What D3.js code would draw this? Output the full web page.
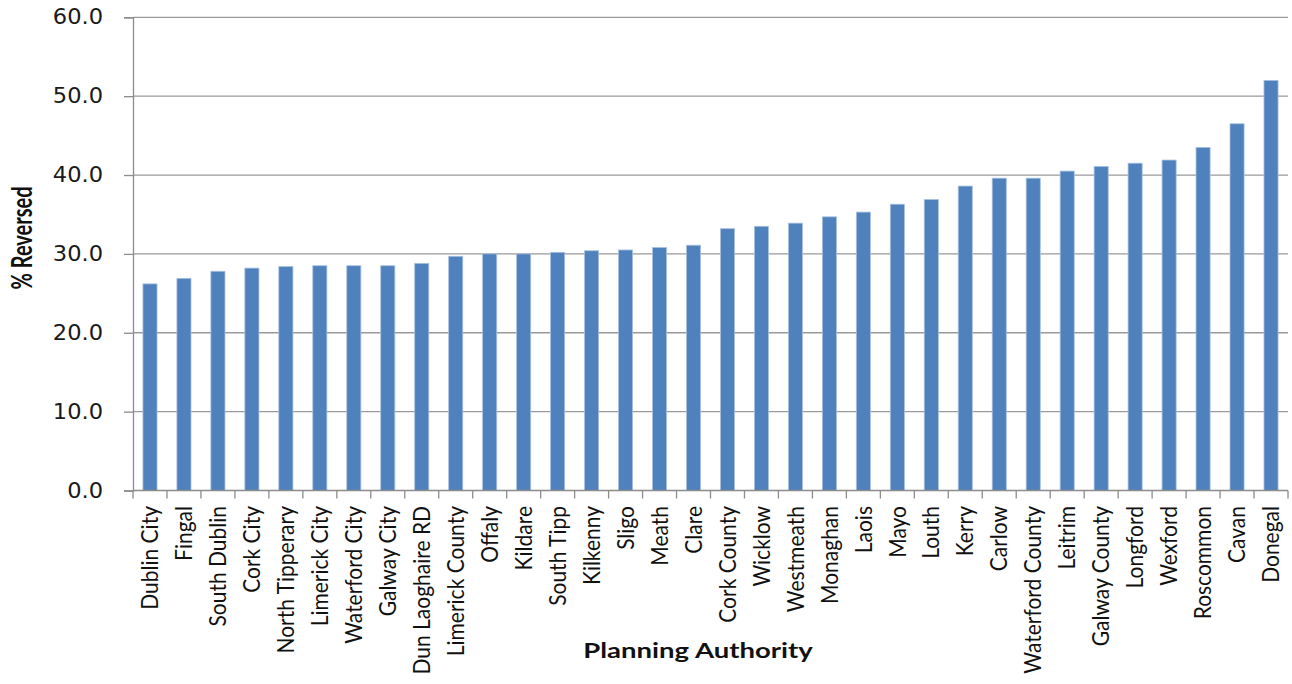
<!DOCTYPE html>
<html>
<head>
<meta charset="utf-8">
<script src="https://cdn.jsdelivr.net/npm/d3@7"></script>
<style>
  html, body { margin: 0; padding: 0; background: #fff; }
  svg { display: block; }
</style>
</head>
<body>
<svg id="chart" width="1292" height="684"></svg>
<script>
// Planning authorities, sorted by share of decisions reversed on appeal
const authorities = [
  "Dublin City", "Fingal", "South Dublin", "Cork City", "North Tipperary",
  "Limerick City", "Waterford City", "Galway City", "Dun Laoghaire RD",
  "Limerick County", "Offaly", "Kildare", "South Tipp", "Kilkenny", "Sligo",
  "Meath", "Clare", "Cork County", "Wicklow", "Westmeath", "Monaghan",
  "Laois", "Mayo", "Louth", "Kerry", "Carlow", "Waterford County", "Leitrim",
  "Galway County", "Longford", "Wexford", "Roscommon", "Cavan", "Donegal"
];

// % Reversed for each authority
const reversedPct = [
  26.2, 26.9, 27.8, 28.2, 28.4,
  28.5, 28.5, 28.5, 28.8,
  29.7, 30.0, 30.0, 30.2, 30.4, 30.5,
  30.8, 31.1, 33.2, 33.5, 33.9, 34.7,
  35.3, 36.3, 36.9, 38.6, 39.6, 39.6, 40.5,
  41.1, 41.5, 41.9, 43.5, 46.5, 52.0
];

// Value axis ticks
const yTicks = [0, 10, 20, 30, 40, 50, 60];

const svg = d3.select("#chart");
const plotLeft = 133, plotRight = 1288, plotTop = 17.3, plotBottom = 490.5;

const x = d3.scaleBand()
  .domain(authorities)
  .range([plotLeft, plotRight])
  .paddingInner(0.585)
  .paddingOuter(0.2925);

const y = d3.scaleLinear()
  .domain([0, 60])
  .range([plotBottom, plotTop]);

const rows = authorities.map((name, i) => ({ name, value: reversedPct[i] }));

// Horizontal gridlines
svg.append("g")
  .selectAll("line")
  .data(yTicks.filter(t => t > 0))
  .join("line")
  .attr("x1", plotLeft).attr("x2", plotRight)
  .attr("y1", d => y(d)).attr("y2", d => y(d))
  .attr("stroke", "#9a9a9a")
  .attr("stroke-width", 1.3);

// Bars
svg.append("g")
  .selectAll("rect")
  .data(rows)
  .join("rect")
  .attr("x", d => x(d.name))
  .attr("y", d => y(d.value))
  .attr("width", x.bandwidth())
  .attr("height", d => y(0) - y(d.value))
  .attr("fill", "#4f81bd")
  .attr("stroke", "#a9c1e1")
  .attr("stroke-width", 0.8);

// Value axis
const yAxis = svg.append("g")
  .attr("transform", `translate(${plotLeft},0)`)
  .call(d3.axisLeft(y).tickValues(yTicks).tickSize(9).tickPadding(20)
    .tickFormat(d3.format(".1f")));
yAxis.select(".domain").attr("stroke", "#8c8c8c").attr("stroke-width", 1.3);
yAxis.selectAll(".tick line").attr("stroke", "#8c8c8c").attr("stroke-width", 1.3);
yAxis.selectAll(".tick text")
  .attr("font-family", "'DejaVu Sans', Verdana, sans-serif")
  .attr("font-size", 20.5)
  .attr("fill", "#1a1a1a")
  .attr("x", null)
  .attr("transform", "translate(-30,0) scale(1.1,1)");

// Category axis line and boundary ticks
const step = x.step();
const boundaries = d3.range(authorities.length + 1).map(i => plotLeft + i * step);
const xAxis = svg.append("g");
xAxis.append("line")
  .attr("x1", plotLeft).attr("x2", plotRight)
  .attr("y1", plotBottom).attr("y2", plotBottom)
  .attr("stroke", "#8c8c8c").attr("stroke-width", 1.3);
xAxis.selectAll("line.tk")
  .data(boundaries)
  .join("line")
  .attr("class", "tk")
  .attr("x1", d => d).attr("x2", d => d)
  .attr("y1", plotBottom).attr("y2", plotBottom + 8)
  .attr("stroke", "#8c8c8c").attr("stroke-width", 1.3);

// Rotated category labels
svg.append("g")
  .selectAll("text")
  .data(authorities)
  .join("text")
  .attr("transform", d => `translate(${x(d) + x.bandwidth() / 2},506) scale(1.08,1) rotate(-90)`)
  .attr("text-anchor", "end")
  .attr("dy", "0.36em")
  .attr("font-family", "Lato, 'Open Sans', sans-serif")
  .attr("font-size", 21)
  .attr("fill", "#111")
  .text(d => d);

// Axis titles
svg.append("text")
  .attr("transform", "translate(698,658) scale(1.31,1)")
  .attr("text-anchor", "middle")
  .attr("font-family", "Lato, 'Open Sans', sans-serif")
  .attr("font-weight", "bold")
  .attr("font-size", 21)
  .attr("fill", "#111")
  .text("Planning Authority");

svg.append("text")
  .attr("transform", "translate(32,238) scale(1.4,1) rotate(-90)")
  .attr("text-anchor", "middle")
  .attr("font-family", "Lato, 'Open Sans', sans-serif")
  .attr("font-weight", "bold")
  .attr("font-size", 20)
  .attr("fill", "#111")
  .text("% Reversed");
</script>
</body>
</html>
